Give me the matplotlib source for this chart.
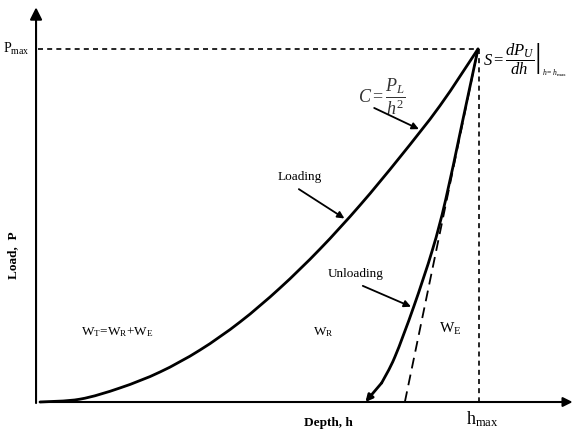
import numpy as np
import matplotlib
matplotlib.use('Agg')
import matplotlib.pyplot as plt
from matplotlib.path import Path
from matplotlib.patches import PathPatch

# Load-depth curve (depth and load normalised to h_max, P_max)
load_h = [0.0, 0.091, 0.183, 0.274, 0.365, 0.457, 0.548, 0.639, 0.731, 0.822,
          0.913, 1.0]
load_P = [0.0, 0.008, 0.040, 0.085, 0.147, 0.227, 0.323, 0.433, 0.558, 0.694,
          0.839, 1.0]

unload_h = [1.0, 0.963, 0.926, 0.896, 0.853, 0.810, 0.780, 0.743]
unload_P = [1.0, 0.785, 0.572, 0.431, 0.269, 0.127, 0.054, 0.0]

# initial unloading slope (tangent at the top)
tangent_h = [0.833, 1.0]
tangent_P = [0.0, 1.0]

h_max = 1.0
P_max = 1.0

plt.rcParams['font.family'] = ['Liberation Serif', 'DejaVu Serif']
plt.rcParams['mathtext.fontset'] = 'custom'
plt.rcParams['mathtext.rm'] = 'Liberation Serif'
plt.rcParams['mathtext.it'] = 'Liberation Serif:italic'
plt.rcParams['mathtext.bf'] = 'Liberation Serif:bold'


def smooth_path(xs, ys):
    """Bezier path through the points (Catmull-Rom style handles)"""
    pts = np.column_stack([xs, ys])
    verts = [pts[0]]
    codes = [Path.MOVETO]
    n = len(pts)
    for i in range(n - 1):
        p0 = pts[max(i - 1, 0)]
        p1 = pts[i]
        p2 = pts[i + 1]
        p3 = pts[min(i + 2, n - 1)]
        c1 = p1 + (p2 - p0) / 6.0
        c2 = p2 - (p3 - p1) / 6.0
        verts += [c1, c2, p2]
        codes += [Path.CURVE4] * 3
    return Path(verts, codes)


fig = plt.figure(figsize=(5.73, 4.30), dpi=100, facecolor='white')
ax = fig.add_axes([0, 0, 1, 1])
ax.set_xlim(-0.0913, 1.2169)
ax.set_ylim(-0.0793, 1.1388)
ax.axis('off')

# axes with arrow heads
ax.annotate('', xy=(-0.009, 1.118), xytext=(-0.009, -0.003),
            arrowprops=dict(arrowstyle='-|>', color='black', lw=1.5,
                            mutation_scale=18, shrinkA=0, shrinkB=0))
ax.annotate('', xy=(1.216, 0.0), xytext=(0.0, 0.0),
            arrowprops=dict(arrowstyle='-|>', color='black', lw=1.5,
                            mutation_scale=14, shrinkA=0, shrinkB=0))

# P_max and h_max guide lines
ax.plot([-0.005, h_max], [P_max, P_max], color='black', lw=1.2, ls=(0, (3, 2.5)))
ax.plot([h_max + 0.002, h_max + 0.002], [P_max, 0], color='black', lw=1.2,
        ls=(0, (3, 2.5)))

# loading / unloading curves
ax.add_patch(PathPatch(smooth_path(load_h, load_P), fill=False,
                       edgecolor='black', lw=2.0, capstyle='round'))
ax.add_patch(PathPatch(smooth_path(unload_h[:-1], unload_P[:-1]), fill=False,
                       edgecolor='black', lw=2.0, capstyle='round'))
ax.annotate('', xy=(unload_h[-1], unload_P[-1]),
            xytext=(unload_h[-2], unload_P[-2]),
            arrowprops=dict(arrowstyle='-|>', color='black', lw=2.0,
                            mutation_scale=10, shrinkA=0, shrinkB=0))
ax.plot(tangent_h, tangent_P, color='black', lw=1.3, ls=(0, (6, 3.5)))

# labels
arrow_kw = dict(arrowstyle='-|>', color='black', lw=1.3, mutation_scale=10,
                shrinkA=0, shrinkB=0)
ax.text(0.594, 0.637, 'Loading', fontsize=9.5, ha='center', va='center')
ax.annotate('', xy=(0.695, 0.52), xytext=(0.591, 0.603), arrowprops=arrow_kw)

ax.text(0.721, 0.363, 'Unloading', fontsize=9.5, ha='center', va='center')
ax.annotate('', xy=(0.847, 0.27), xytext=(0.737, 0.329), arrowprops=arrow_kw)

ax.text(0.78, 0.865, r'$C=\dfrac{P_L}{h^2}$', fontsize=13, ha='center',
        va='center', color='#333333')
ax.annotate('', xy=(0.865, 0.773), xytext=(0.763, 0.833), arrowprops=arrow_kw)

ax.text(1.012, 0.972, r'$S=\left.\dfrac{dP_U}{dh}\right|$',
        fontsize=12, ha='left', va='center')
ax.text(1.146, 0.932, r'$h=h_{\mathrm{max}}$', fontsize=5.5, ha='left',
        va='center')

ax.text(0.176, 0.198, r'W$_\mathrm{T}$=W$_\mathrm{R}$+W$_\mathrm{E}$',
        fontsize=9.5, ha='center', va='center')
ax.text(0.646, 0.198, r'W$_\mathrm{R}$', fontsize=9.5, ha='center', va='center')
ax.text(0.936, 0.207, r'W$_\mathrm{E}$', fontsize=11, ha='center', va='center')

ax.text(-0.023, P_max, r'P$_\mathrm{max}$', fontsize=10, ha='right',
        va='center')
ax.text(h_max + 0.009, -0.048, r'h$_\mathrm{max}$', fontsize=13, ha='center',
        va='center')
ax.text(0.658, -0.060, 'Depth, h', fontsize=9.5, fontweight='bold',
        ha='center', va='center')
ax.text(-0.062, 0.416, 'Load,  P', fontsize=9.5, fontweight='bold',
        rotation=90, ha='center', va='center')

fig.savefig('out.png', dpi=100, facecolor='white')
